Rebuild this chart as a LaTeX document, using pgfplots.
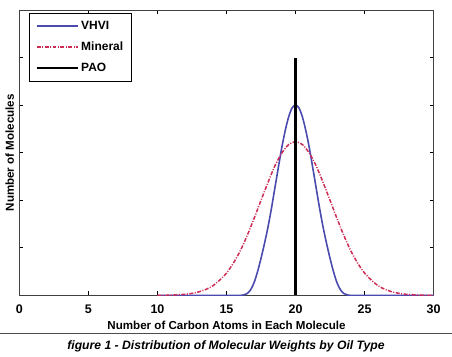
\documentclass[border=0pt]{standalone}
\usepackage{pgfplots}
\pgfplotsset{compat=1.18}
\usepackage{fontspec}
\setmainfont{Liberation Sans}
\definecolor{vhvi}{RGB}{75,75,175}
\definecolor{mineral}{RGB}{205,45,85}
\begin{document}
\begin{tikzpicture}[x=1pt,y=1pt]
\path (0,0) rectangle (452,357);
\begin{axis}[at={(19pt,61pt)},anchor=south west,
  scale only axis, width=415pt, height=286pt,
  xmin=0, xmax=30, ymin=0, ymax=6,
  xtick={0,5,...,30}, ytick={1,2,3,4,5}, yticklabels={},
  tick align=inside, tick pos=both,
  major tick length=4pt,
  tick style={black, line width=0.8pt},
  axis line style={line width=0.7pt, draw=black!75},
  /pgf/number format/assume math mode=true,
  ticklabel style={font=\fontsize{12.5}{14}\selectfont\bfseries},
  xticklabel style={yshift=-6pt},
  xlabel={Number of Carbon Atoms in Each Molecule},
  ylabel={Number of Molecules},
  label style={font=\fontsize{11.6}{14}\selectfont\bfseries},
  xlabel style={yshift=0pt},
  ylabel style={yshift=-5pt},
  legend style={at={(0.024,0.99)}, anchor=north west, draw=black, line width=0.8pt,
    font=\fontsize{12}{14}\selectfont\bfseries, row sep=7pt, inner xsep=6pt, inner ysep=6pt},
  legend cell align=left,
  legend image code/.code={\draw[#1, line width=1.6pt] (0pt,0pt) -- (42pt,0pt);},
]
\addplot[vhvi, line width=1.6pt, smooth] coordinates {
(10,0) (15,0) (16,0) (16.25,0.01) (16.5,0.04) (16.75,0.12) (17,0.27) (17.25,0.50) (17.5,0.78)
(17.75,1.09) (18,1.43) (18.25,1.82) (18.5,2.25) (18.75,2.68) (19,3.10) (19.25,3.46)
(19.5,3.75) (19.75,3.94) (20,4.0) (20.25,3.94) (20.5,3.75) (20.75,3.46) (21,3.10)
(21.25,2.68) (21.5,2.25) (21.75,1.82) (22,1.43) (22.25,1.09) (22.5,0.78) (22.75,0.50)
(23,0.27) (23.25,0.12) (23.5,0.04) (23.75,0.01) (24,0) (25,0) (30,0)
};
\addlegendentry{VHVI}
\addplot[mineral, line width=1.5pt, dash pattern=on 4pt off 1.5pt on 1pt off 1.5pt, smooth] coordinates {
(10,0) (11,0.006) (12,0.024) (12.5,0.043) (13,0.075) (13.5,0.125) (14,0.20) (14.5,0.32)
(15,0.47) (15.5,0.68) (16,0.94) (16.5,1.26) (17,1.62) (17.5,2.00) (18,2.37) (18.5,2.72)
(19,2.99) (19.5,3.17) (20,3.23) (20.5,3.17) (21,2.99) (21.5,2.72) (22,2.37) (22.5,2.00)
(23,1.62) (23.5,1.26) (24,0.94) (24.5,0.68) (25,0.47) (25.5,0.32) (26,0.20) (26.5,0.125)
(27,0.075) (27.5,0.043) (28,0.024) (29,0.006) (30,0)
};
\addlegendentry{Mineral}
\addplot[black, line width=2.2pt] coordinates {(20,0) (20,5)};
\addlegendentry{PAO}
\end{axis}
\draw[black!70, line width=0.9pt] (0,23) -- (452,23);
\node[font=\fontsize{12.2}{14}\selectfont\bfseries\itshape] at (226,10) {figure 1 - Distribution of Molecular Weights by Oil Type};
\end{tikzpicture}
\end{document}
